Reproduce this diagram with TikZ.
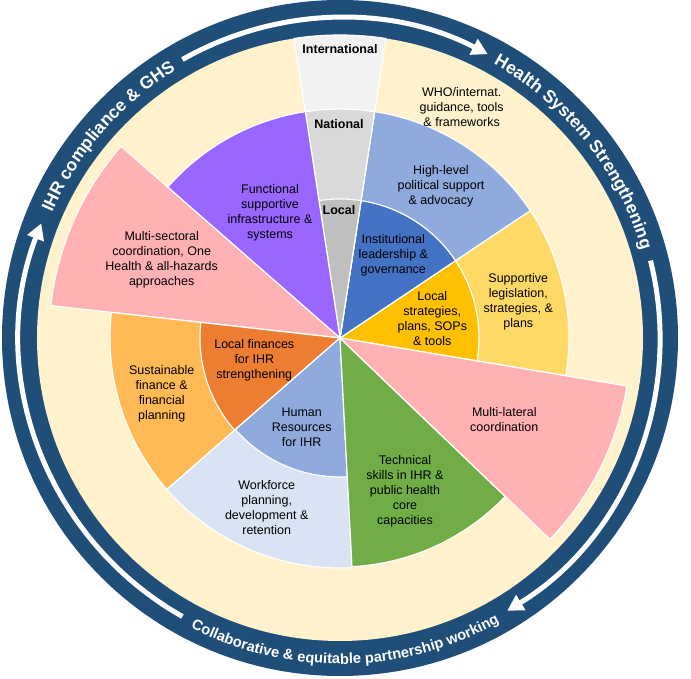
\documentclass[tikz,border=0pt]{standalone}
\usepackage{fontspec}
\setmainfont{Liberation Sans}
\usetikzlibrary{arrows.meta,decorations.text}
\definecolor{ring}{HTML}{1F4E79}
\definecolor{cream}{HTML}{FFF2CC}
\definecolor{locstrat}{HTML}{FFC000}
\definecolor{legis}{HTML}{FFD966}
\definecolor{inst}{HTML}{4472C4}
\definecolor{political}{HTML}{8FAADC}
\definecolor{greylocal}{HTML}{BFBFBF}
\definecolor{greynat}{HTML}{D9D9D9}
\definecolor{greyintl}{HTML}{F2F2F2}
\definecolor{infra}{HTML}{9966FF}
\definecolor{coord}{HTML}{FFB1B3}
\definecolor{locfin}{HTML}{ED7D31}
\definecolor{susfin}{HTML}{FFBA55}
\definecolor{hr}{HTML}{8FAADC}
\definecolor{workforce}{HTML}{DAE3F3}
\definecolor{skills}{HTML}{70AD47}

\begin{document}
\begin{tikzpicture}[
  x=1pt, y=1pt,
  wedge/.style={draw=white, line width=1.2pt},
  stripe/.style={draw=white, line width=5pt, -{Triangle[width=17pt,length=16pt]}},
  txt/.style={align=center, inner sep=0pt, font=\fontsize{12.5}{15}\selectfont},
  lvl/.style={inner sep=0pt, font=\bfseries\fontsize{12.5}{15}\selectfont}
]

\useasboundingbox (-340,-341) rectangle (351,338);

\fill[ring] (0,0) circle[radius=338pt];
\fill[cream] (0,0) circle[radius=303pt];

\filldraw[wedge, fill=legis] (0,0) -- (-9.5:229pt) arc[start angle=-9.5, end angle=33.8, radius=229pt] -- cycle;
\filldraw[wedge, fill=locstrat] (0,0) -- (-9.5:139pt) arc[start angle=-9.5, end angle=33.8, radius=139pt] -- cycle;
\filldraw[wedge, fill=political] (0,0) -- (33.8:229pt) arc[start angle=33.8, end angle=81.3, radius=229pt] -- cycle;
\filldraw[wedge, fill=inst] (0,0) -- (33.8:139pt) arc[start angle=33.8, end angle=81.3, radius=139pt] -- cycle;
\filldraw[wedge, fill=greyintl] (0,0) -- (81.3:303pt) arc[start angle=81.3, end angle=98.7, radius=303pt] -- cycle;
\filldraw[wedge, fill=greynat] (0,0) -- (81.3:229pt) arc[start angle=81.3, end angle=98.7, radius=229pt] -- cycle;
\filldraw[wedge, fill=greylocal] (0,0) -- (81.3:139pt) arc[start angle=81.3, end angle=98.7, radius=139pt] -- cycle;
\filldraw[wedge, fill=infra] (0,0) -- (98.7:229pt) arc[start angle=98.7, end angle=138.8, radius=229pt] -- cycle;
\filldraw[wedge, fill=coord] (0,0) -- (138.8:291pt) arc[start angle=138.8, end angle=173.6, radius=291pt] -- cycle;
\filldraw[wedge, fill=susfin] (0,0) -- (173.6:230pt) arc[start angle=173.6, end angle=221.2, radius=230pt] -- cycle;
\filldraw[wedge, fill=locfin] (0,0) -- (173.6:140pt) arc[start angle=173.6, end angle=221.2, radius=140pt] -- cycle;
\filldraw[wedge, fill=workforce] (0,0) -- (221.2:230pt) arc[start angle=221.2, end angle=273, radius=230pt] -- cycle;
\filldraw[wedge, fill=hr] (0,0) -- (221.2:139pt) arc[start angle=221.2, end angle=273, radius=139pt] -- cycle;
\filldraw[wedge, fill=skills] (0,0) -- (273:229pt) arc[start angle=273, end angle=316.2, radius=229pt] -- cycle;
\filldraw[wedge, fill=coord] (0,0) -- (316.2:291pt) arc[start angle=316.2, end angle=350.5, radius=291pt] -- cycle;

\node[txt] (who) at (121.7,231.3) {WHO/internat.\\guidance, tools\\\& frameworks};
\node[txt] (political) at (101,152) {High-level\\political support\\\& advocacy};
\node[txt] (institutional) at (53.3,83) {Institutional\\leadership \&\\governance};
\node[txt] (legislation) at (178.3,36.3) {Supportive\\legislation,\\strategies, \&\\plans};
\node[txt] (localstrat) at (92.3,19.3) {Local\\strategies,\\plans, SOPs\\\& tools};
\node[txt] (multilateral) at (164.3,-82) {Multi-lateral\\coordination};
\node[txt] (skills) at (65,-153) {Technical\\skills in IHR \&\\public health\\core\\capacities};
\node[txt] (workforce) at (-73.3,-169.5) {Workforce\\planning,\\development \&\\retention};
\node[txt] (humanres) at (-38.3,-89.7) {Human\\Resources\\for IHR};
\node[txt] (localfin) at (-85.7,-22.5) {Local finances\\for IHR\\strengthening};
\node[txt] (susfin) at (-178.3,-56) {Sustainable\\finance \&\\financial\\planning};
\node[txt] (multisect) at (-178.3,78) {Multi-sectoral\\coordination, One\\Health \& all-hazards\\approaches};
\node[txt] (infra) at (-70,125) {Functional\\supportive\\infrastructure \&\\systems};
\node[lvl] (local) at (-1,128) {Local};
\node[lvl] (national) at (-1,214) {National};
\node[lvl] (international) at (0,289) {International};

\draw[stripe] (240.5:320pt) arc[start angle=240.5, end angle=159, radius=320pt];
\draw[stripe] (119.5:320pt) arc[start angle=119.5, end angle=62.5, radius=320pt];
\draw[stripe] (14:320pt) arc[start angle=14, end angle=-58.5, radius=320pt];

\path[decorate, decoration={text along path, text color=white, text align=center,
  text={|\bfseries\fontsize{17.5}{20}\selectfont|IHR compliance {\&} GHS}}]
  (157:314pt) arc[start angle=157, end angle=121, radius=314pt];
\path[decorate, decoration={text along path, text color=white, text align=center,
  text={|\bfseries\fontsize{17.5}{20}\selectfont|Health System Strengthening}}]
  (61:314pt) arc[start angle=61, end angle=16, radius=314pt];
\path[decorate, decoration={text along path, text color=white, text align=center,
  text={|\bfseries\fontsize{14.7}{17}\selectfont|Collaborative {\&} equitable partnership working}}]
  (242.5:326pt) arc[start angle=242.5, end angle=299.5, radius=326pt];

\end{tikzpicture}
\end{document}
